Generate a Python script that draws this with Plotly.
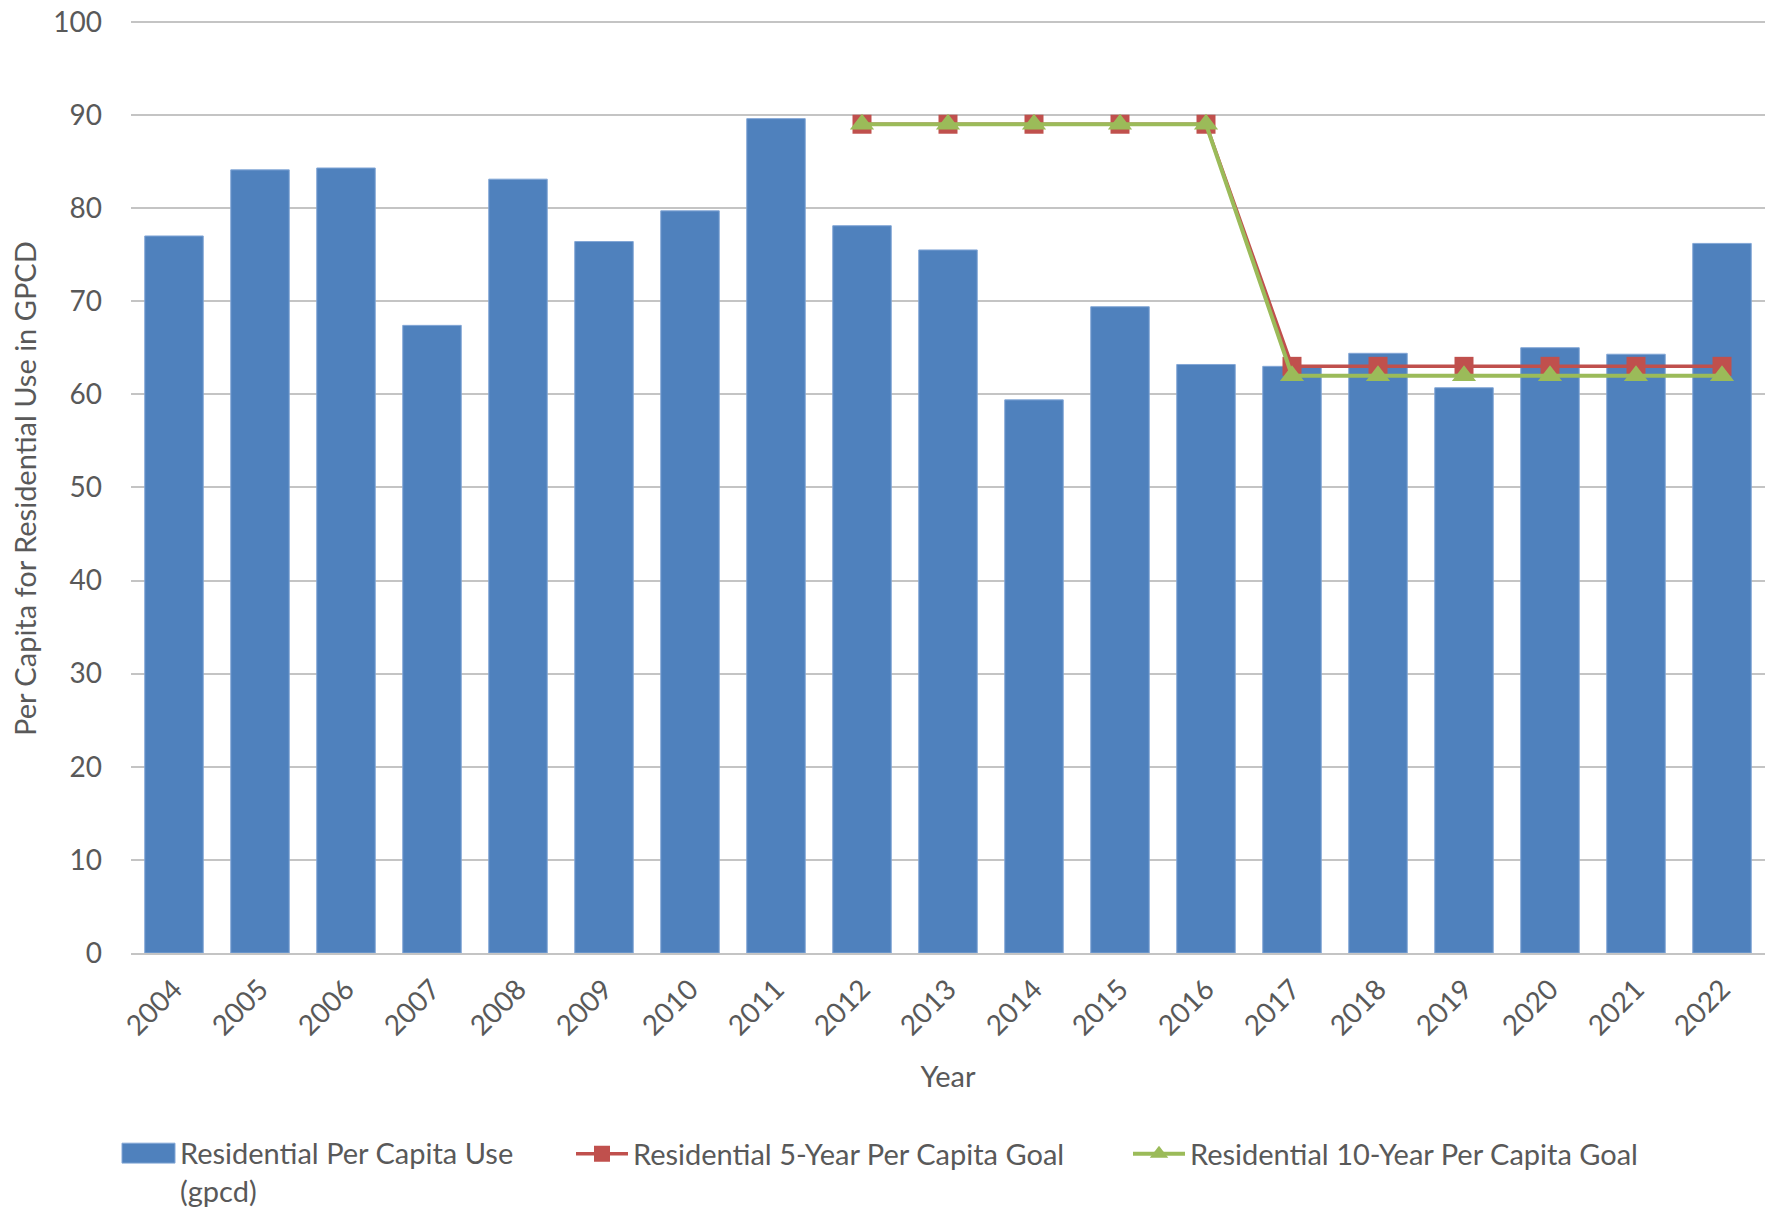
import plotly.graph_objects as go

# Annual residential per capita water use and the 5- and 10-year goals
years = ["2004", "2005", "2006", "2007", "2008", "2009", "2010", "2011", "2012", "2013",
         "2014", "2015", "2016", "2017", "2018", "2019", "2020", "2021", "2022"]
per_capita_use = [77.0, 84.1, 84.3, 67.4, 83.1, 76.4, 79.7, 89.6, 78.1, 75.5,
                  59.4, 69.4, 63.2, 63.0, 64.4, 60.7, 65.0, 64.3, 76.2]
goal_years = ["2012", "2013", "2014", "2015", "2016", "2017", "2018", "2019", "2020", "2021", "2022"]
goal_5yr = [89, 89, 89, 89, 89, 63, 63, 63, 63, 63, 63]
goal_10yr = [89, 89, 89, 89, 89, 62, 62, 62, 62, 62, 62]
y_ticks = [0, 10, 20, 30, 40, 50, 60, 70, 80, 90, 100]
use_label = "Residential Per Capita Use<br>(gpcd)"
y_title = "Per Capita for Residential Use in GPCD"

FONT = "Lato, Carlito, Calibri, sans-serif"
TEXT = "#595959"
GRID = "#C4C4C4"
BLUE = "#4F81BD"
W, H = 1769, 1216
TICK_SIZE = 28
LABEL_SIZE = 29

fig = go.Figure()

fig.add_trace(go.Bar(
    x=years, y=per_capita_use,
    name=use_label,
    marker=dict(color=BLUE, line=dict(color="#82A6D6", width=1)),
    showlegend=False,
))
fig.add_trace(go.Scatter(
    x=goal_years, y=goal_5yr, mode="lines+markers",
    name="Residential 5-Year Per Capita Goal",
    line=dict(color="#C0504D", width=3.5),
    marker=dict(symbol="square", size=19, color="#C0504D"),
    legend="legend2",
))
fig.add_trace(go.Scatter(
    x=goal_years, y=goal_10yr, mode="lines+markers",
    name="Residential 10-Year Per Capita Goal",
    line=dict(color="#9BBB59", width=4),
    marker=dict(symbol="triangle-up", size=21, color="#9BBB59"),
    legend="legend3",
))

legend_common = dict(
    orientation="h", xref="container", yref="container",
    xanchor="left", yanchor="middle", valign="top",
    font=dict(family=FONT, size=LABEL_SIZE, color=TEXT),
    bgcolor="rgba(0,0,0,0)", itemwidth=52,
)

# Plot-area edges in pixels; the y range runs slightly past 100 so the
# top gridline is kept
plot_l, plot_r, plot_t, plot_b = 131, 1765, 15, 953


def px_x(v):
    return (v - plot_l) / (plot_r - plot_l)


def px_y(v):
    return (plot_b - v) / (plot_b - plot_t)


# Legend entry for the bar series: a wide swatch with a two-line label
fig.add_shape(
    type="rect", xref="paper", yref="paper",
    x0=px_x(122), x1=px_x(175), y0=px_y(1164), y1=px_y(1144),
    fillcolor=BLUE, line=dict(color="#82A6D6", width=1),
)
fig.add_annotation(
    text=use_label, xref="paper", yref="paper",
    x=px_x(178), y=px_y(1172), xanchor="left", yanchor="middle",
    align="left", showarrow=False,
    font=dict(family=FONT, size=LABEL_SIZE, color=TEXT),
)

# Vertical axis title
fig.add_annotation(
    text=y_title, xref="paper", yref="paper",
    x=px_x(25), y=px_y(487), xanchor="center", yanchor="middle",
    textangle=-90, showarrow=False,
    font=dict(family=FONT, size=LABEL_SIZE, color=TEXT),
)

fig.update_layout(
    width=W, height=H,
    margin=dict(l=plot_l, r=W - plot_r, t=plot_t, b=H - plot_b),
    paper_bgcolor="white", plot_bgcolor="white",
    font=dict(family=FONT, size=LABEL_SIZE, color=TEXT),
    bargap=0.32,
    showlegend=True,
    legend2=dict(legend_common, x=571 / W, y=1 - 1154 / H),
    legend3=dict(legend_common, x=1128 / W, y=1 - 1154 / H),
    xaxis=dict(
        type="category", categoryorder="array", categoryarray=years,
        range=[-0.5, len(years) - 0.5],
        tickangle=-45, tickfont=dict(family=FONT, size=TICK_SIZE, color=TEXT),
        showgrid=False, showline=True, linecolor=GRID, linewidth=1.5,
        ticks="", ticklabelstandoff=7,
        title=dict(text="Year", font=dict(family=FONT, size=LABEL_SIZE, color=TEXT), standoff=26),
    ),
    yaxis=dict(
        range=[0, 100.3], tickvals=y_ticks,
        tickfont=dict(family=FONT, size=TICK_SIZE, color=TEXT),
        showgrid=True, gridcolor=GRID, gridwidth=1.5,
        zeroline=False, showline=False, ticks="", ticklabelstandoff=28,
        ticklabeloverflow="allow",
    ),
)

fig.write_html("out.html")
